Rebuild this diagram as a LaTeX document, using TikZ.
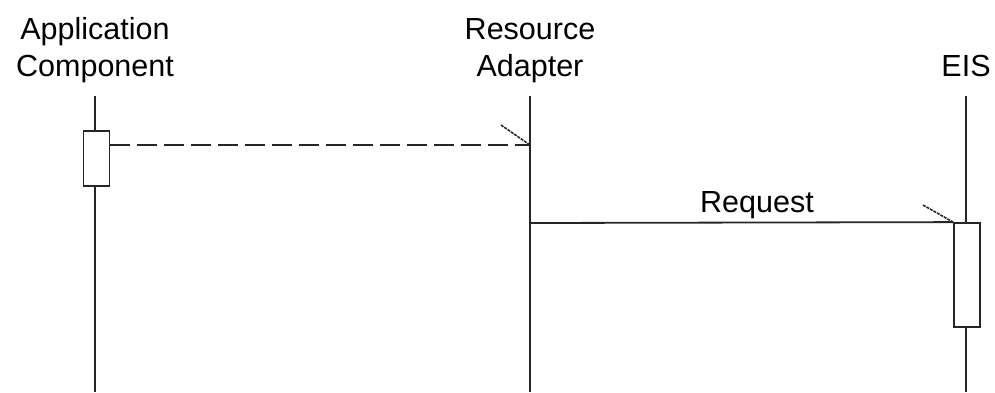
\documentclass[tikz,border=0pt]{standalone}
\usepackage{fontspec}
\setmainfont{Liberation Sans}
\begin{document}
\begin{tikzpicture}[x=1pt,y=-1pt,
  lbl/.style={font=\fontsize{30.5}{37}\selectfont, inner sep=0pt, anchor=base, align=center},
  life/.style={line width=1.8pt, black!85},
  act/.style={draw=black!85, fill=white, line width=1.8pt, minimum width=26pt, inner sep=0pt},
  msg/.style={line width=1.8pt, black!85},
  barb/.style={line width=1.6pt, black!85, dash pattern=on 3pt off 1pt}]
\useasboundingbox (0,0) rectangle (995,392);
% headers
\node[lbl] (hA) at (95,39) {Application};
\node[lbl] (hA2) at (95,76) {Component};
\node[lbl] (hB) at (530,39) {Resource};
\node[lbl] (hB2) at (530,76) {Adapter};
\node[lbl] (hC) at (966,76) {EIS};
% lifeline ends
\coordinate (aT) at (95,96);
\coordinate (aB) at (95,392);
\coordinate (bT) at (530,96);
\coordinate (bB) at (530,392);
\coordinate (cT) at (966,96);
\coordinate (cB) at (966,392);
\draw[life] (aT) -- (aB);
\draw[life] (bT) -- (bB);
\draw[life] (cT) -- (cB);
% activation boxes
\node[act, minimum height=55pt] (actA) at (96.5,158.5) {};
\node[act, minimum height=104pt] (actC) at (967,275) {};
% messages
\coordinate (m1e) at (530,145);
\draw[msg, dash pattern=on 20pt off 7pt] (actA.east |- m1e) -- (m1e);
\coordinate (b1) at (501,125);
\draw[barb] (b1) -- (m1e);
\coordinate (m2s) at (530,223);
\draw[msg] (m2s) -- (actC.north west);
\coordinate (b2) at (923,205);
\draw[barb] (b2) -- (actC.north west);
\node[lbl] (req) at (757,212) {Request};
\end{tikzpicture}
\end{document}
